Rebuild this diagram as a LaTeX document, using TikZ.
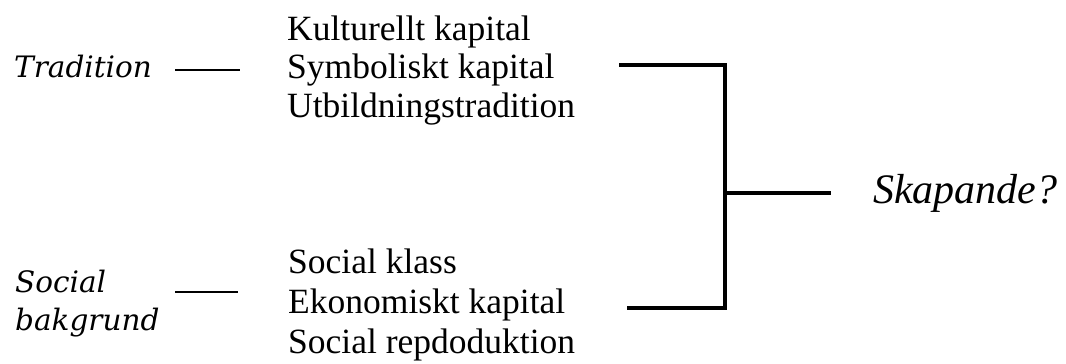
\documentclass[tikz,border=0pt]{standalone}
\usepackage{fontspec}
\setmainfont{Liberation Serif}
\newfontfamily\slabfont{DejaVu Serif}
\begin{document}
\begin{tikzpicture}[x=1bp,y=-1bp,
  item/.style={anchor=base west,inner sep=0pt,font=\fontsize{35.5bp}{39bp}\selectfont},
  side/.style={anchor=base west,inner sep=0pt,font=\slabfont\itshape\fontsize{29.5bp}{38bp}\selectfont},
  result/.style={anchor=base west,inner sep=0pt,font=\itshape\fontsize{42bp}{48bp}\selectfont},
  thinline/.style={line width=1.5bp},
  bracket/.style={line width=4bp,line join=miter}]
\useasboundingbox (0,0) rectangle (1066,363);
% left labels
\node[side] (trad) at (14,77) {Tradition};
\node[side] (soc) at (15,292) {Social};
\node[side] (bak) at (15,330) {bakgrund};
% top block
\node[item] (k1) at (287,40) {Kulturellt kapital};
\node[item] (s1) at (287,78) {Symboliskt kapital};
\node[item] (u1) at (287,117) {Utbildningstradition};
% bottom block
\node[item] (k2) at (288,273) {Social klass};
\node[item] (e2) at (288,313) {Ekonomiskt kapital};
\node[item] (s2) at (288,353) {Social repdoduktion};
% result
\node[result] (sk) at (873,203) {Skapande?};
% connector points
\coordinate (ta) at (175,70);
\coordinate (tb) at (240,70);
\coordinate (sa) at (175,292);
\coordinate (sb) at (238,292);
\coordinate (b1) at (619,65);
\coordinate (b2) at (725,65);
\coordinate (b3) at (725,308);
\coordinate (b4) at (627,308);
\coordinate (j) at (725,193);
\coordinate (je) at (831,193);
\draw[thinline] (ta) -- (tb);
\draw[thinline] (sa) -- (sb);
\draw[bracket] (b1) -- (b2) -- (b3) -- (b4);
\draw[bracket] (j) -- (je);
\end{tikzpicture}
\end{document}
